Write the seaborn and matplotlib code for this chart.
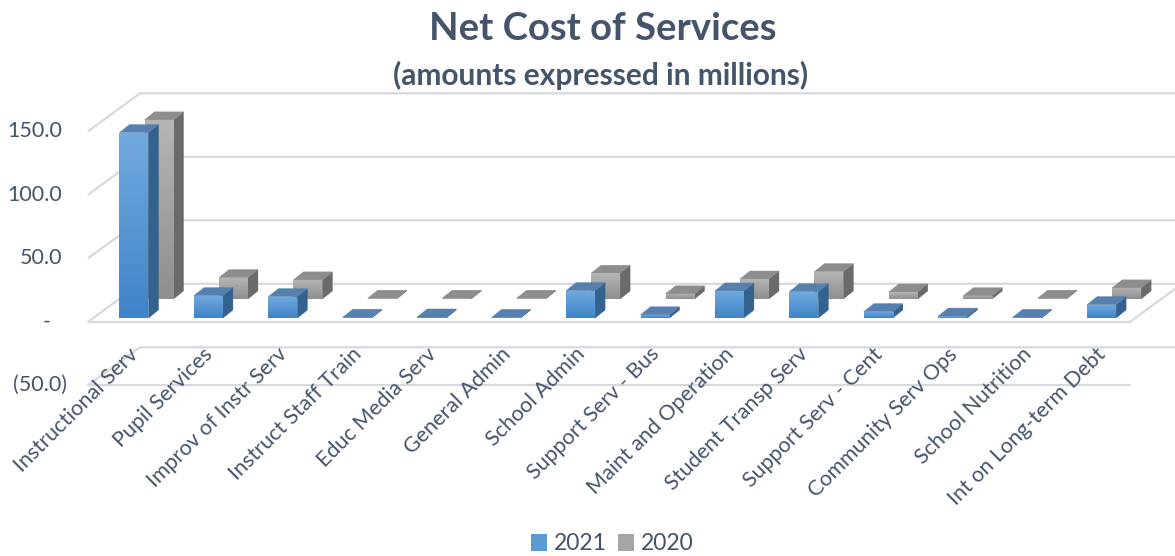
import numpy as np
import matplotlib
matplotlib.use("Agg")
import matplotlib.pyplot as plt
from matplotlib.patches import Polygon, Rectangle, Patch
from matplotlib.colors import LinearSegmentedColormap
import seaborn as sns

# ---------------- data ----------------
categories = ["Instructional Serv", "Pupil Services", "Improv of Instr Serv",
              "Instruct Staff Train", "Educ Media Serv", "General Admin",
              "School Admin", "Support Serv - Bus", "Maint and Operation",
              "Student Transp Serv", "Support Serv - Cent", "Community Serv Ops",
              "School Nutrition", "Int on Long-term Debt"]
values_2021 = [146.0, 17.6, 16.8, 0.6, 0.8, 0.5, 21.5, 2.5, 21.3, 20.7, 5.0, 1.5, 0.5, 10.5]
values_2020 = [141.0, 16.8, 15.0, 0.6, 0.6, 0.6, 20.2, 4.0, 15.7, 21.5, 5.5, 2.5, 0.6, 8.7]
series_names = ["2021", "2020"]
y_ticks = [-50, 0, 50, 100, 150]
y_tick_labels = ["(50.0)", "-", "50.0", "100.0", "150.0"]
title = "Net Cost of Services"
subtitle = "(amounts expressed in millions)"

# ---------------- style ----------------
sns.set_theme(style="white")
plt.rcParams['font.family'] = ['Lato', 'DejaVu Sans']
TXT = "#44546A"
GRID = "#D6D9DE"

W, H = 1175, 556
fig = plt.figure(figsize=(W / 100, H / 100), dpi=100)
ax = fig.add_axes([0, 0, 1, 1])
ax.axis('off')

# pixel <-> data layout mapping
PX_CAT, X0_PX, PX_VAL, Y0_PX = 74.43, 88.0, 1.27, 321.8
def xpx(p):
    return (p - X0_PX) / PX_CAT - 0.5
def ypx(p):
    return (Y0_PX - p) / PX_VAL

n = len(categories)
DX, DY = 52 / PX_CAT, 38 / PX_VAL          # full depth of the chart box
BW = 29 / PX_CAT                           # bar front width
BDX, BDY = 10 / PX_CAT, 8 / PX_VAL         # bar depth

# walls / gridlines
for v in y_ticks:
    ax.plot([-0.5, -0.5 + DX, n - 0.5 + DX], [v, v + DY, v + DY],
            color=GRID, lw=1.6, zorder=1, solid_capstyle='butt')
for v in (y_ticks[0], 0):
    ax.plot([-0.5, n - 0.5], [v, v], color=GRID, lw=1.6, zorder=1)
ax.plot([n - 0.5, n - 0.5 + DX], [0, DY], color=GRID, lw=1.6, zorder=1)

# series styles (x offset of front-face centre, base level, colours)
styles = {
    "2021": dict(xoff=0.118, base=3.0, front=("#3F84C8", "#72AADF"),
                 side="#34628F", top="#5580B0"),
    "2020": dict(xoff=0.454, base=18.0, front=("#8F8F8F", "#B5B5B5"),
                 side="#6A6A6A", top="#8D8D8D"),
}
series_vals = {"2021": values_2021, "2020": values_2020}

grad = np.linspace(0, 1, 128).reshape(-1, 1)
z = 5
for name in ["2020", "2021"]:
    st = styles[name]
    cmap = LinearSegmentedColormap.from_list(name, st["front"])
    for i, v in enumerate(series_vals[name]):
        x0 = i + st["xoff"] - BW / 2
        x1 = x0 + BW
        yb = st["base"]
        yt = yb + v
        side = Polygon([(x1, yb), (x1 + BDX, yb + BDY), (x1 + BDX, yt + BDY), (x1, yt)],
                       closed=True, facecolor=st["side"], edgecolor=st["side"], lw=0.3, zorder=z)
        topf = Polygon([(x0, yt), (x1, yt), (x1 + BDX, yt + BDY), (x0 + BDX, yt + BDY)],
                       closed=True, facecolor=st["top"], edgecolor=st["top"], lw=0.3, zorder=z)
        ax.add_patch(side)
        ax.add_patch(topf)
        rect = Rectangle((x0, yb), BW, v, facecolor="none", edgecolor="none",
                         transform=ax.transData)
        ax.add_patch(rect)
        im = ax.imshow(grad, cmap=cmap, origin='lower', extent=[x0, x1, yb, yt],
                       aspect='auto', zorder=z + 0.5, interpolation='bilinear')
        im.set_clip_path(rect)
        z += 1

ax.set_xlim(xpx(0), xpx(W))
ax.set_ylim(ypx(H), ypx(0))

# y tick labels (accounting style)
TICK_FS = 15.5
for v, lab in zip(y_ticks, y_tick_labels):
    if lab == "-":
        ax.text(xpx(47), v, lab, ha='center', va='center', fontsize=TICK_FS, color=TXT)
    elif lab.endswith(")"):
        ax.text(xpx(67), v, lab, ha='right', va='center', fontsize=TICK_FS, color=TXT)
    else:
        ax.text(xpx(62), v, lab, ha='right', va='center', fontsize=TICK_FS, color=TXT)

# category labels
for i, c in enumerate(categories):
    ax.text(i + 0.04, ypx(344), c, rotation=45, rotation_mode='anchor',
            ha='right', va='top', fontsize=15.5, color=TXT)

# title
fig.text(603 / W, 1 - 29 / H, title, ha='center', va='center',
         fontsize=27.5, fontweight='bold', color=TXT)
fig.text(601 / W, 1 - 75 / H, subtitle, ha='center', va='center',
         fontsize=21.5, fontweight='bold', color=TXT)

# legend
handles = [Patch(facecolor="#5B9BD5", edgecolor="none"),
           Patch(facecolor="#A5A5A5", edgecolor="none")]
leg = fig.legend(handles, series_names, loc='center', bbox_to_anchor=(612 / W, 1 - 544 / H),
                 ncol=2, frameon=False, fontsize=16.5, handlelength=0.7, handleheight=0.7,
                 handletextpad=0.3, columnspacing=0.5, borderpad=0)
for t in leg.get_texts():
    t.set_color(TXT)

fig.savefig("out.png", dpi=100)
